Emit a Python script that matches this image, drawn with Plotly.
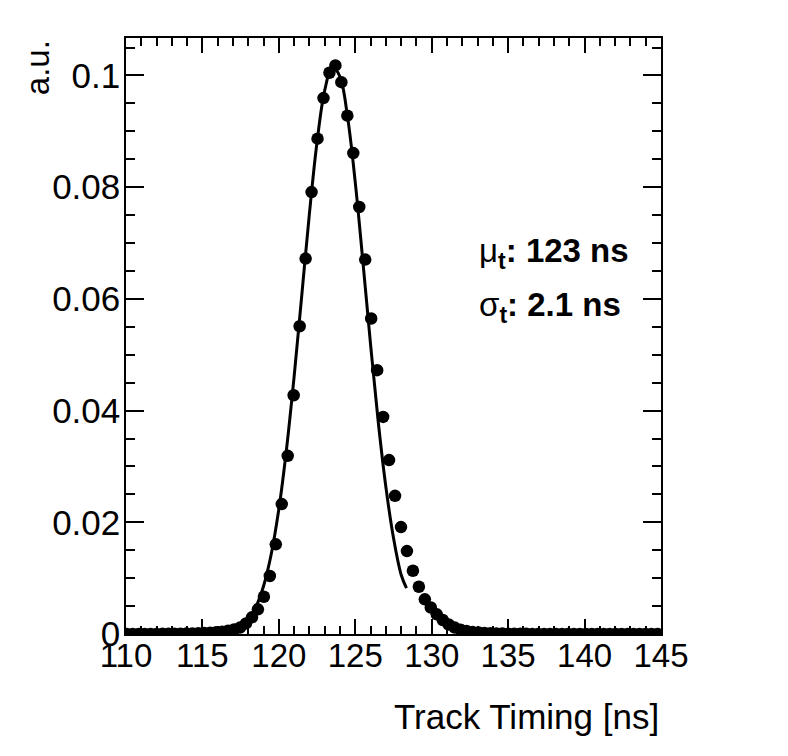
import plotly.graph_objects as go

# bin centres of the timing histogram [ns]
bin_centres = [
    110.05, 110.44, 110.83, 111.22, 111.61, 112.00, 112.39, 112.78, 113.17, 113.56,
    113.95, 114.34, 114.73, 115.12, 115.51, 115.90, 116.29, 116.68, 117.07, 117.46,
    117.85, 118.24, 118.63, 119.02, 119.41, 119.80, 120.19, 120.58, 120.97, 121.36,
    121.75, 122.14, 122.53, 122.92, 123.31, 123.70, 124.09, 124.48, 124.87, 125.26,
    125.65, 126.04, 126.43, 126.82, 127.21, 127.60, 127.99, 128.38, 128.77, 129.16,
    129.55, 129.94, 130.33, 130.72, 131.11, 131.50, 131.89, 132.28, 132.67, 133.06,
    133.45, 133.84, 134.23, 134.62, 135.01, 135.40, 135.79, 136.18, 136.57, 136.96,
    137.35, 137.74, 138.13, 138.52, 138.91, 139.30, 139.69, 140.08, 140.47, 140.86,
    141.25, 141.64, 142.03, 142.42, 142.81, 143.20, 143.59, 143.98, 144.37, 144.76,
]

# normalised counts (a.u.)
counts = [
    0.00001, 0.00001, 0.00001, 0.00001, 0.00002, 0.00002, 0.00003, 0.00003, 0.00004, 0.00005,
    0.00007, 0.00009, 0.00012, 0.00016, 0.00022, 0.00030, 0.00042, 0.00058, 0.00080, 0.00115,
    0.00190, 0.00299, 0.00442, 0.00667, 0.01038, 0.01605, 0.02326, 0.03190, 0.04275, 0.05510,
    0.06721, 0.07912, 0.08868, 0.09594, 0.10048, 0.10179, 0.09880, 0.09279, 0.08610, 0.07644,
    0.06703, 0.05648, 0.04723, 0.03887, 0.03113, 0.02474, 0.01914, 0.01485, 0.01132, 0.00846,
    0.00621, 0.00474, 0.00352, 0.00250, 0.00170, 0.00115, 0.00078, 0.00052, 0.00036, 0.00025,
    0.00018, 0.00013, 0.00009, 0.00007, 0.00005, 0.00004, 0.00003, 0.00003, 0.00002, 0.00002,
    0.00002, 0.00002, 0.00001, 0.00001, 0.00001, 0.00001, 0.00001, 0.00001, 0.00001, 0.00001,
    0.00001, 0.00001, 0.00001, 0.00001, 0.00001, 0.00001, 0.00001, 0.00001, 0.00001, 0.00001,
]

# gaussian fit curve
fit_x = [115.0, 116.0, 117.0, 118.0, 118.5, 119.0, 119.5, 120.0, 120.5, 121.0,
         121.5, 122.0, 122.5, 123.0, 123.5, 124.0, 124.5, 125.0, 125.5, 126.0,
         126.5, 127.0, 127.5, 128.0, 128.35]
fit_y = [0.00002, 0.00012, 0.00063, 0.00261, 0.00488, 0.00860, 0.01428, 0.02237, 0.03308, 0.04612,
         0.06068, 0.07529, 0.08813, 0.09733, 0.10150, 0.09975, 0.09245, 0.08080, 0.06660, 0.05183,
         0.03804, 0.02634, 0.01720, 0.01061, 0.00820]

x_ticks = [110, 115, 120, 125, 130, 135, 140, 145]
y_ticks = [0, 0.02, 0.04, 0.06, 0.08, 0.1]
y_tick_labels = ["0", "0.02", "0.04", "0.06", "0.08", "0.1"]

FONT = "Liberation Sans, Arial, Helvetica, sans-serif"

fig = go.Figure()

fig.add_trace(go.Scatter(
    x=bin_centres, y=counts, mode="markers",
    marker=dict(color="black", size=12.5, line=dict(width=0)),
    showlegend=False, hoverinfo="x+y",
))

fig.add_trace(go.Scatter(
    x=fit_x, y=fit_y, mode="lines",
    line=dict(color="black", width=3, shape="spline"),
    showlegend=False,
))

fig.update_xaxes(
    range=[110, 145], tickvals=x_ticks,
    ticks="inside", ticklen=15, tickwidth=1.5, tickcolor="black",
    minor=dict(dtick=1, ticks="inside", ticklen=8, tickwidth=1.5, tickcolor="black"),
    showline=True, linecolor="black", linewidth=1.5, mirror="allticks",
    showgrid=False, zeroline=False,
    ticklabelstandoff=-8,
    tickfont=dict(family=FONT, size=33, color="black"),
)
fig.update_yaxes(
    range=[0, 0.1067], tickvals=y_ticks, ticktext=y_tick_labels,
    ticks="inside", ticklen=18, tickwidth=1.5, tickcolor="black",
    minor=dict(dtick=0.005, ticks="inside", ticklen=9, tickwidth=1.5, tickcolor="black"),
    showline=True, linecolor="black", linewidth=1.5, mirror="allticks",
    showgrid=False, zeroline=False,
    ticklabelstandoff=-3,
    tickfont=dict(family=FONT, size=35, color="black"),
)

fig.add_annotation(
    text="Track Timing [ns]", xref="paper", yref="paper",
    x=1, y=-0.138, xanchor="right", yanchor="middle", showarrow=False,
    font=dict(family=FONT, size=35, color="black"),
)
fig.add_annotation(
    text="a.u.", xref="paper", yref="paper", textangle=-90,
    x=-0.165, y=1, xanchor="center", yanchor="top", showarrow=False,
    font=dict(family=FONT, size=33, color="black"),
)
fig.add_annotation(
    text="μ<b><sub>t</sub>: 123 ns</b>", xref="paper", yref="paper",
    x=0.656, y=0.639, xanchor="left", yanchor="middle", showarrow=False,
    font=dict(family=FONT, size=33, color="black"),
)
fig.add_annotation(
    text="σ<b><sub>t</sub>: 2.1 ns</b>", xref="paper", yref="paper",
    x=0.656, y=0.548, xanchor="left", yanchor="middle", showarrow=False,
    font=dict(family=FONT, size=33, color="black"),
)

# the page body has an 8px margin, so the figure is 8px smaller than the window
fig.update_layout(
    width=780, height=748,
    margin=dict(l=118, r=127, t=30, b=122),
    plot_bgcolor="white", paper_bgcolor="white",
)

fig.write_html("out.html")
